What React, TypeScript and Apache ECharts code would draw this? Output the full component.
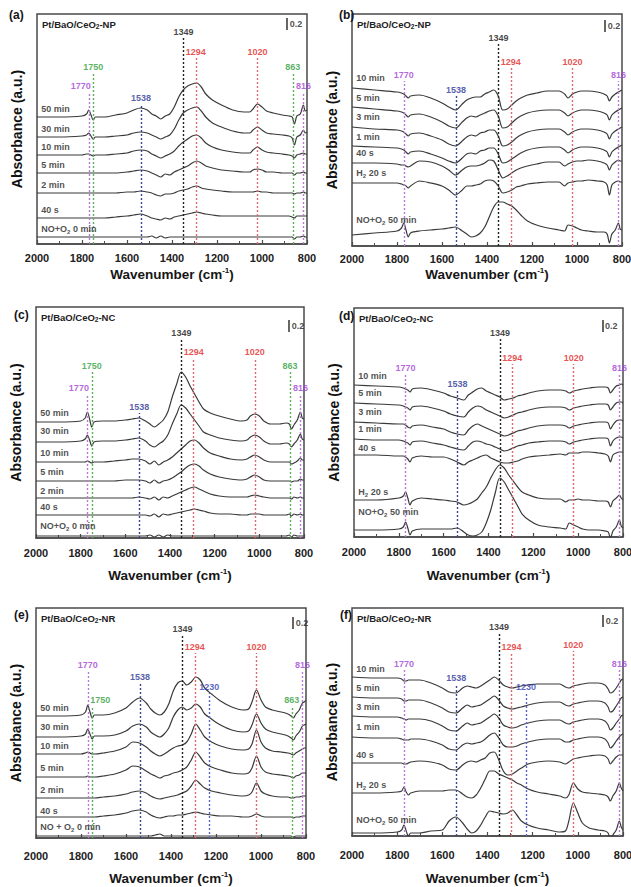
import React, { useEffect, useRef } from 'react';
import * as echarts from 'echarts';

const FONT = "'Liberation Sans', Arial, Helvetica, sans-serif";

// shared wavenumber grid (cm-1), rows of 10
const WAVENUMBERS = [
  2000, 1900, 1800, 1780, 1770, 1760, 1750, 1740, 1700, 1650,
  1600, 1570, 1540, 1510, 1490, 1470, 1450, 1430, 1410, 1390,
  1370, 1350, 1330, 1310, 1290, 1270, 1250, 1220, 1180, 1130,
  1080, 1055, 1040, 1020, 1000, 980, 950, 910, 880, 866,
  856, 845, 830, 816, 808, 800,
];

// ---------- (a) Pt/BaO/CeO2-NP, NO+O2 adsorption ----------
const A_LABELS = ['50 min', '30 min', '10 min', '5 min', '2 min', '40 s', 'NO+O_2 0 min'];
const A_OFFSETS = [127, 107, 89, 71, 51, 26, 7];
const A_50 = [0,0,1,3,7,2,-3,0,0,2, 4,7,9,7,3,1,-2,1,3,10, 20,27,31,33,34,30,23,17,12,7, 5,5,8,13,10,6,4,2,1,0, -7,1,3,12,6,7];
const A_30 = [0,0,1,2,4,1,-2,0,0,1, 2,4,5,4,2,0,-2,0,2,8, 17,24,27,29,30,26,20,14,10,6, 4,4,7,10,7,4,3,2,1,-1, -8,0,2,7,4,5];
const A_10 = [0,0,0,1,1,0,-1,0,0,1, 2,4,5,4,1,-1,-3,-1,1,4, 9,13,16,19,20,17,12,8,5,3, 2,2,5,8,5,3,2,1,0,-1, -3,0,1,2,1,1];
const A_5 = [0,0,0,0,0,0,0,0,0,0, 1,2,3,2,0,-2,-4,-1,-2,1, 3,5,7,10,12,10,7,5,3,2, 1,1,3,4,3,1,1,0,0,0, -2,0,0,1,0,0];
const A_2 = [0,0,0,0,0,0,0,0,0,0, 1,1,2,1,0,-2,-3,-1,-1,0, 2,3,4,6,7,5,4,3,2,1, 1,1,1,2,1,1,0,0,0,0, -1,0,0,1,0,0];
const A_40S = [0,0,0,0,0,0,0,0,0,1, 2,3,4,2,0,-1,-2,0,-1,1, 2,3,4,5,6,5,4,3,2,2, 2,2,2,2,2,2,2,2,2,1, 0,2,2,2,2,2];
const A_0 = [0,0,0,0,0,0,0,0,0,0, 0,0,0,0,1,-1,1,-1,0,0, 0,0,0,0,0,0,0,0,0,0, 0,0,0,0,0,0,0,0,0,0, -2,0,0,1,0,0];
const A_PEAKS = [1770, 1750, 1538, 1349, 1294, 1020, 863, 816];

// ---------- (b) Pt/BaO/CeO2-NP, H2 reduction ----------
const B_LABELS = ['10 min', '5 min', '3 min', '1 min', '40 s', 'H_2 20 s', 'NO+O_2 50 min'];
const B_OFFSETS = [158, 139, 119, 100, 83, 63, 11];
const B_10 = [0,-2,-4,-5,-6,-8,-10,-8,-7,-10, -15,-19,-22,-16,-12,-10,-9,-9,-6,-4, -2,-8,-22,-21,-17,-13,-10,-7,-5,-3, -3,-6,-10,-6,-4,-3,-3,-4,-6,-8, -13,-9,-6,-4,-3,-2];
const B_5 = [0,-2,-4,-5,-6,-8,-10,-8,-7,-10, -15,-19,-21,-15,-11,-9,-10,-8,-6,-4, -3,-9,-21,-20,-16,-12,-9,-6,-4,-3, -3,-6,-9,-6,-4,-3,-3,-4,-6,-8, -13,-8,-5,-3,-2,-1];
const B_3 = [0,-2,-3,-4,-5,-7,-9,-7,-6,-9, -13,-17,-19,-14,-10,-8,-9,-6,-5,-3, -3,-9,-19,-18,-15,-11,-8,-5,-3,-2, -2,-5,-8,-5,-3,-2,-2,-3,-5,-7, -12,-7,-4,-2,-1,0];
const B_1 = [0,-1,-2,-3,-4,-6,-8,-6,-5,-8, -12,-15,-17,-12,-8,-7,-8,-5,-4,-2, -2,-8,-17,-16,-13,-10,-7,-4,-2,-1, -1,-4,-7,-4,-2,-1,-1,-2,-4,-6, -11,-6,-3,-1,0,1];
const B_40S = [0,0,-1,-2,-2,-3,-4,-3,2,1, -3,-7,-12,-7,-4,-3,-3,-2,0,3, 2,-7,-15,-13,-10,-7,-5,-3,-1,1, 1,-3,-1,1,2,2,3,2,0,-2, -7,-2,1,3,2,2];
const B_H2 = [0,0,0,-1,-2,-3,-5,-3,2,0, -3,-7,-12,-7,-3,-3,-2,-1,2,3, 2,-3,-10,-9,-7,-4,-3,-1,0,1, 1,-3,0,1,2,2,3,2,1,-2, -12,-2,1,2,1,1];
const B_NO = [0,2,4,7,12,5,-2,2,4,5, 6,7,8,4,1,-2,-1,2,8,18, 28,33,33,31,29,25,20,14,10,7, 5,4,10,9,7,5,4,3,3,1, -8,1,5,12,6,5];
const B_PEAKS = [1770, 1538, 1349, 1294, 1020, 816];

// ---------- (c) Pt/BaO/CeO2-NC, NO+O2 adsorption ----------
const C_LABELS = ['50 min', '30 min', '10 min', '5 min', '2 min', '40 s', 'NO+O_2 0 min'];
const C_OFFSETS = [116, 96, 76, 57, 40, 23, 2];
const C_50 = [0,0,1,4,10,3,-5,0,1,1, 2,3,4,1,-2,-5,-2,2,10,25, 38,50,45,36,28,20,13,9,6,3, 1,2,6,8,6,1,-2,-2,-1,-2, -7,-3,2,10,4,3];
const C_30 = [0,0,1,3,7,2,-4,0,1,1, 2,3,4,1,-3,-5,-2,1,7,18, 28,37,34,28,22,16,10,7,4,2, 1,2,5,7,5,1,-2,-2,-1,-2, -5,-2,2,8,3,2];
const C_10 = [0,0,0,0,1,0,-1,0,0,1, 2,3,3,1,-2,1,-3,0,2,5, 9,13,17,21,22,19,14,9,6,3, 2,3,5,7,5,2,0,0,0,0, -2,-1,1,4,2,2];
const C_5 = [0,0,0,0,0,0,0,0,0,0, 1,1,1,0,-2,1,-2,0,1,3, 6,9,13,16,17,15,11,7,4,2, 1,2,4,6,4,1,0,0,0,0, -1,0,0,2,1,1];
const C_2 = [0,0,0,0,0,0,0,0,0,0, 0,0,1,0,-1,1,-2,1,0,2, 4,6,8,10,11,9,7,4,2,1, 1,1,2,3,2,1,0,0,0,0, -1,1,0,1,0,0];
const C_40S = [0,0,0,0,0,0,0,0,0,0, 0,0,0,0,-1,1,-2,1,0,1, 2,3,4,5,6,5,4,2,1,1, 0,0,1,1,1,0,0,0,0,1, -1,1,0,1,0,0];
const C_0 = [0,0,0,0,0,0,0,0,0,0, 0,0,0,0,1,-1,1,-1,1,0, 0,0,0,0,0,0,0,0,0,0, 0,0,0,0,0,0,0,0,0,1, -1,1,0,0,0,0];
const C_PEAKS = [1770, 1750, 1538, 1349, 1294, 1020, 863, 816];

// ---------- (d) Pt/BaO/CeO2-NC, H2 reduction ----------
const D_LABELS = ['10 min', '5 min', '3 min', '1 min', '40 s', 'H_2 20 s', 'NO+O_2 50 min'];
const D_OFFSETS = [152, 134, 115, 98, 82, 37, 7];
const D_10 = [0,-1,-2,-3,-4,-5,-7,-4,-3,-5, -8,-11,-13,-15,-10,-7,-4,-3,-6,-8, -10,-12,-15,-14,-13,-11,-10,-8,-6,-5, -5,-6,-8,-6,-5,-4,-3,-2,-2,-3, -8,-5,-1,0,1,0];
const D_5 = [0,-1,-2,-3,-4,-5,-7,-4,-3,-5, -8,-11,-13,-14,-9,-5,-3,-4,-7,-9, -11,-13,-15,-14,-12,-10,-9,-7,-5,-4, -4,-5,-7,-5,-4,-3,-2,-1,-1,-2, -7,-4,0,1,1,0];
const D_3 = [0,-1,-2,-2,-3,-5,-6,-4,-3,-5, -7,-10,-12,-13,-8,-4,-2,-4,-6,-8, -10,-12,-14,-13,-11,-9,-8,-6,-4,-3, -3,-4,-6,-4,-3,-2,-1,0,0,-1, -7,-3,1,2,2,1];
const D_1 = [0,-1,-1,-2,-3,-4,-6,-3,-2,-4, -6,-8,-10,-11,-7,-3,-2,-3,-5,-6, -8,-10,-12,-11,-9,-7,-6,-4,-3,-2, -2,-3,-5,-3,-2,-1,0,1,1,0, -7,-2,1,2,2,1];
const D_40S = [0,0,-1,-1,-2,-4,-7,-3,-1,-2, -2,-4,-7,-10,-7,-5,-3,-1,0,-3, -5,-7,-8,-8,-7,-6,-4,-2,-1,0, 1,0,2,2,2,3,3,2,1,-1, -7,0,2,3,3,3];
const D_H2 = [0,0,2,4,8,2,-5,-1,2,1, 0,-1,-2,-5,-4,-2,1,7,13,22, 30,35,32,25,19,13,8,5,2,1, 1,-2,0,0,1,0,0,-1,-1,-2, -7,-1,2,5,2,0];
const D_NO = [0,0,1,3,8,2,-5,-1,1,1, 1,1,2,-2,-5,-6,-5,-2,7,20, 37,52,48,40,32,24,16,10,5,3, 2,1,7,5,3,1,0,0,-1,-2, -8,-1,3,10,4,2];
const D_PEAKS = [1770, 1538, 1349, 1294, 1020, 816];

// ---------- (e) Pt/BaO/CeO2-NR, NO+O2 adsorption ----------
const E_LABELS = ['50 min', '30 min', '10 min', '5 min', '2 min', '40 s', 'NO + O_2 0 min'];
const E_OFFSETS = [122, 101, 84, 61, 40, 21, 2];
const E_50 = [0,0,1,4,11,4,-2,1,1,3, 8,14,18,13,7,3,1,4,12,25, 33,35,31,34,39,36,28,22,15,9, 6,7,14,26,16,9,6,4,2,0, -2,2,6,13,14,16];
const E_30 = [0,0,1,3,8,3,-2,1,1,2, 6,11,13,10,5,2,0,3,9,20, 27,30,27,29,33,30,23,18,12,7, 5,6,12,23,14,8,5,3,1,-1, -3,1,5,11,12,13];
const E_10 = [0,0,0,1,2,1,0,0,1,3, 7,12,11,7,3,0,-2,0,3,6, 8,9,12,20,30,24,17,12,8,5, 4,5,10,24,12,6,3,2,1,0, -1,1,3,5,6,6];
const E_5 = [0,0,0,0,1,0,0,0,1,3, 7,11,10,6,3,1,-1,1,2,4, 5,7,10,17,25,20,14,10,7,4, 3,4,9,21,10,5,3,2,1,0, -1,1,2,4,4,4];
const E_2 = [0,0,0,0,0,0,0,0,1,2, 4,6,7,5,2,0,-1,0,1,2, 3,5,7,12,18,14,10,7,5,3, 2,3,6,15,7,4,2,1,1,0, 0,1,1,2,2,2];
const E_40S = [0,0,0,0,0,0,0,0,1,2, 4,6,7,5,2,0,-1,0,1,1, 2,2,3,4,5,4,3,2,1,1, 0,0,1,3,1,0,0,0,0,0, -1,0,0,1,1,1];
const E_0 = [0,0,0,0,0,0,0,0,0,0, 0,0,0,0,0,1,2,0,0,0, 0,0,0,0,0,0,0,0,0,0, 0,0,0,0,0,0,0,0,0,0, -1,0,0,0,0,0];
const E_PEAKS = [1770, 1750, 1538, 1349, 1294, 1230, 1020, 863, 816];

// ---------- (f) Pt/BaO/CeO2-NR, H2 reduction ----------
const F_LABELS = ['10 min', '5 min', '3 min', '1 min', '40 s', 'H_2 20 s', 'NO+O_2 50 min'];
const F_OFFSETS = [159, 139, 120, 99, 73, 43, 3];
const F_10 = [0,-1,-1,-2,-4,-4,-3,-3,-3,-6, -11,-15,-16,-11,-9,-10,-11,-9,-6,-3, 0,-3,-8,-10,-11,-10,-9,-8,-7,-7, -7,-10,-11,-9,-8,-7,-6,-6,-8,-12, -16,-15,-11,-6,-3,-2];
const F_5 = [0,-1,-1,-2,-4,-4,-3,-3,-3,-6, -11,-15,-16,-11,-8,-10,-9,-8,-5,-2, 1,-3,-9,-11,-12,-11,-10,-8,-6,-5, -5,-8,-9,-7,-6,-5,-4,-4,-6,-10, -15,-14,-9,-4,-1,0];
const F_3 = [0,-1,-1,-2,-3,-4,-3,-3,-3,-5, -10,-14,-15,-10,-7,-9,-8,-7,-4,-1, 2,-2,-9,-11,-12,-11,-9,-7,-5,-4, -4,-7,-8,-6,-5,-4,-3,-3,-5,-9, -14,-12,-7,-3,0,1];
const F_1 = [0,-1,-1,-2,-3,-3,-3,-2,-2,-4, -8,-12,-13,-8,-6,-7,-6,-5,-2,2, 4,-1,-8,-10,-10,-9,-7,-5,-3,-2, -2,-5,-5,-3,-2,-1,0,0,-2,-6, -11,-9,-4,0,2,3];
const F_40S = [0,0,0,0,-1,-1,0,1,2,1, -2,-6,-7,-2,1,2,1,3,5,10, 11,3,-8,-12,-11,-8,-5,-1,1,2, 1,-1,1,4,5,6,7,8,7,4, -1,2,6,8,8,8];
const F_H2 = [0,0,1,2,6,1,-2,0,2,2, 2,3,3,-1,-4,-5,-2,5,14,22, 22,19,17,15,13,10,8,4,1,-1, -3,-5,-2,10,4,1,0,-1,-2,-4, -8,-3,2,10,5,2];
const F_NO = [0,0,1,3,8,2,-3,0,0,2, 3,12,16,10,4,0,2,8,16,22, 21,20,19,20,23,18,12,8,5,3, 1,2,12,30,20,10,5,3,2,0, -7,-2,3,12,6,3];
const F_PEAKS = [1770, 1538, 1349, 1294, 1230, 1020, 816];

const PEAK_TEXT_COLORS: Record<number, string> = {
  1770: '#a23fd4', 1750: '#2e9e3c', 1538: '#2b3595', 1349: '#111111',
  1294: '#e2261f', 1020: '#e2261f', 863: '#2e9e3c', 816: '#a23fd4', 1230: '#3040b2',
};
const PEAK_LINE_COLORS: Record<number, string> = {
  1770: '#b77ad8', 1750: '#5bb05b', 1538: '#3d4399', 1349: '#222222',
  1294: '#e06a6a', 1020: '#e06a6a', 863: '#5bb05b', 816: '#b77ad8', 1230: '#5565c2',
};

const SCALE_BAR = 12; // 0.2 a.u. in plot units

// layout (pixel geometry, annotation heights)
const PANELS = [
  {
    letter: '(a)', title: 'Pt/BaO/CeO_2-NP', labels: A_LABELS, offsets: A_OFFSETS,
    curves: [A_50, A_30, A_10, A_5, A_2, A_40S, A_0], peaks: A_PEAKS,
    peakY: [158, 177, 146, 212, 192, 192, 177, 158], peakLabelWn: { 1770: 1806 } as Record<number, number>,
    box: [37, 14, 270, 230], letterAt: [9, 9], labelMargin: 8, nameGap: 22, scaleBar: [889, 226],
    lift: [8, 8, 8, 8, 8, 8, 8],
  },
  {
    letter: '(b)', title: 'Pt/BaO/CeO_2-NP', labels: B_LABELS, offsets: B_OFFSETS,
    curves: [B_10, B_5, B_3, B_1, B_40S, B_H2, B_NO], peaks: B_PEAKS,
    peakY: [171, 156, 208, 184, 184, 171], peakLabelWn: {} as Record<number, number>,
    box: [352, 14, 270, 232], letterAt: [339, 9], labelMargin: 7, nameGap: 20, scaleBar: [876, 226],
    lift: [10, 9, 10, 9, 10, 10, 15],
  },
  {
    letter: '(c)', title: 'Pt/BaO/CeO_2-NC', labels: C_LABELS, offsets: C_OFFSETS,
    curves: [C_50, C_30, C_10, C_5, C_2, C_40S, C_0], peaks: C_PEAKS,
    peakY: [150, 172, 131, 205, 186, 186, 172, 150], peakLabelWn: { 1770: 1808 } as Record<number, number>,
    box: [36, 307, 268, 231], letterAt: [14, 309], labelMargin: 9, nameGap: 29, scaleBar: [867, 218],
    lift: [9, 11, 9, 9, 7, 8, 10],
  },
  {
    letter: '(d)', title: 'Pt/BaO/CeO_2-NC', labels: D_LABELS, offsets: D_OFFSETS,
    curves: [D_10, D_5, D_3, D_1, D_40S, D_H2, D_NO], peaks: D_PEAKS,
    peakY: [169, 153, 204, 179, 179, 169], peakLabelWn: {} as Record<number, number>,
    box: [354, 308, 269, 229], letterAt: [339, 310], labelMargin: 9, nameGap: 30, scaleBar: [892, 217],
    lift: [9, 10, 10, 10, 7, 8, 18],
  },
  {
    letter: '(e)', title: 'Pt/BaO/CeO_2-NR', labels: E_LABELS, offsets: E_OFFSETS,
    curves: [E_50, E_30, E_10, E_5, E_2, E_40S, E_0], peaks: E_PEAKS,
    peakY: [173, 138, 161, 209, 191, 151, 191, 138, 173], peakLabelWn: { 1750: 1714 } as Record<number, number>,
    box: [36, 608, 270, 230], letterAt: [14, 609], labelMargin: 12, nameGap: 32, scaleBar: [858, 221],
    lift: [8, 10, 8, 9, 8, 6, 9],
  },
  {
    letter: '(f)', title: 'Pt/BaO/CeO_2-NR', labels: F_LABELS, offsets: F_OFFSETS,
    curves: [F_10, F_5, F_3, F_1, F_40S, F_H2, F_NO], peaks: F_PEAKS,
    peakY: [172, 158, 209, 189, 149, 191, 172], peakLabelWn: {} as Record<number, number>,
    box: [352, 608, 271, 228], letterAt: [340, 609], labelMargin: 13, nameGap: 34, scaleBar: [889, 221],
    lift: [8, 9, 9, 10, 8, 8, 13],
  },
];

function richify(s: string): string {
  const parts = s.split('_');
  let out = parts[0] ? `{t|${parts[0]}}` : '';
  for (let i = 1; i < parts.length; i++) {
    out += `{s|${parts[i].charAt(0)}}`;
    const rest = parts[i].slice(1);
    if (rest) out += `{t|${rest}}`;
  }
  return out;
}

function buildOption() {
  const titles: any[] = [];
  const grids: any[] = [];
  const xAxes: any[] = [];
  const yAxes: any[] = [];
  const series: any[] = [];

  PANELS.forEach((p, i) => {
    const [left, top, width, height] = p.box;
    titles.push({
      text: p.letter, left: p.letterAt[0], top: p.letterAt[1], padding: 0,
      textStyle: { fontSize: 12, fontWeight: 'bold', color: '#151515', fontFamily: FONT },
    });
    titles.push({
      text: richify(p.title), left: left + 5, top: top + 4, padding: 0,
      textStyle: {
        rich: {
          t: { fontSize: 9.5, fontWeight: 'bold', color: '#222', fontFamily: FONT, lineHeight: 12 },
          s: { fontSize: 6.5, fontWeight: 'bold', color: '#222', fontFamily: FONT, lineHeight: 7, verticalAlign: 'bottom' },
        },
      },
    });
    grids.push({
      left, top, width, height, show: true, borderColor: '#4a4a4a', borderWidth: 1.5,
      backgroundColor: 'transparent', containLabel: false, outerBoundsMode: 'none',
    });
    xAxes.push({
      type: 'value', gridIndex: i, min: 800, max: 2000, interval: 200, inverse: true,
      axisLine: { show: true, onZero: false, lineStyle: { color: '#4a4a4a', width: 1.5 } },
      axisTick: { show: true, inside: true, length: 4, lineStyle: { color: '#4a4a4a', width: 1.2 } },
      minorTick: { show: true, splitNumber: 2, length: 3, lineStyle: { color: '#4a4a4a', width: 1 } },
      axisLabel: {
        show: true, margin: p.labelMargin, color: '#222', fontSize: 11, fontWeight: 'bold', fontFamily: FONT,
        formatter: (v: number) => String(v),
      },
      splitLine: { show: false }, minorSplitLine: { show: false },
      name: '{a|Wavenumber (cm}{s|-1}{a|)}', nameLocation: 'middle', nameGap: p.nameGap,
      nameTextStyle: {
        rich: {
          a: { fontSize: 13.5, fontWeight: 'bold', color: '#161616', fontFamily: FONT, lineHeight: 16 },
          s: { fontSize: 8, fontWeight: 'bold', color: '#161616', fontFamily: FONT, lineHeight: 8, verticalAlign: 'top' },
        },
      },
    });
    yAxes.push({
      type: 'value', gridIndex: i, min: 0, max: height,
      axisLine: { show: false }, axisTick: { show: false }, axisLabel: { show: false }, splitLine: { show: false },
      name: 'Absorbance (a.u.)', nameLocation: 'middle', nameRotate: 90, nameGap: 13,
      nameTextStyle: { fontSize: 14, fontWeight: 'bold', color: '#111', fontFamily: FONT },
    });

    const markData: any[] = p.peaks.map((wn, k) => [
      { coord: [wn, 0], lineStyle: { color: PEAK_LINE_COLORS[wn], type: [2, 2], width: 1.4 } },
      { coord: [wn, p.peakY[k] - 6] },
    ]);
    markData.push([
      { coord: [p.scaleBar[0], p.scaleBar[1]], lineStyle: { color: '#333', type: 'solid', width: 1.5 } },
      { coord: [p.scaleBar[0], p.scaleBar[1] - SCALE_BAR] },
    ]);

    p.curves.forEach((c, k) => {
      series.push({
        type: 'line', name: `${p.letter} ${p.labels[k]}`, xAxisIndex: i, yAxisIndex: i,
        data: WAVENUMBERS.map((w, j) => [w, p.offsets[k] + c[j]]),
        showSymbol: false, symbol: 'none', smooth: 0.3, silent: true, z: 3,
        lineStyle: { color: '#3a3a3a', width: 1.2 },
        markLine: k === 0 ? {
          silent: true, symbol: ['none', 'none'], label: { show: false }, animation: false,
          data: markData,
        } : undefined,
      });
    });

    const textData: any[] = [];
    p.labels.forEach((lab, k) => {
      textData.push({
        value: [1983, p.offsets[k] + p.lift[k]],
        label: {
          show: true, position: 'right', distance: 0, formatter: richify(lab),
          rich: {
            t: { fontSize: 9, fontWeight: 'bold', color: '#222', fontFamily: FONT, lineHeight: 11 },
            s: { fontSize: 6, fontWeight: 'bold', color: '#222', fontFamily: FONT, lineHeight: 6, verticalAlign: 'bottom' },
          },
        },
      });
    });
    p.peaks.forEach((wn, k) => {
      textData.push({
        value: [p.peakLabelWn[wn] ?? wn, p.peakY[k]],
        label: {
          show: true, position: 'inside', formatter: String(wn),
          color: PEAK_TEXT_COLORS[wn], fontSize: 9, fontWeight: 'bold', fontFamily: FONT,
        },
      });
    });
    textData.push({
      value: [p.scaleBar[0] - 10, p.scaleBar[1] - SCALE_BAR / 2],
      label: { show: true, position: 'right', distance: 0, formatter: '0.2', color: '#222', fontSize: 9, fontWeight: 'bold', fontFamily: FONT },
    });
    series.push({
      type: 'scatter', xAxisIndex: i, yAxisIndex: i, symbolSize: 1, silent: true, z: 6,
      itemStyle: { color: 'transparent' }, data: textData,
    });
  });

  return {
    animation: false,
    backgroundColor: '#ffffff',
    title: titles,
    grid: grids,
    xAxis: xAxes,
    yAxis: yAxes,
    series,
  };
}

export default function App() {
  const ref = useRef<HTMLDivElement>(null);
  useEffect(() => {
    document.body.style.margin = '0';
    if (!ref.current) return;
    const chart = echarts.init(ref.current, undefined, { renderer: 'svg' });
    chart.setOption(buildOption() as any);
    return () => chart.dispose();
  }, []);
  return <div ref={ref} style={{ width: 631, height: 887 }} />;
}
